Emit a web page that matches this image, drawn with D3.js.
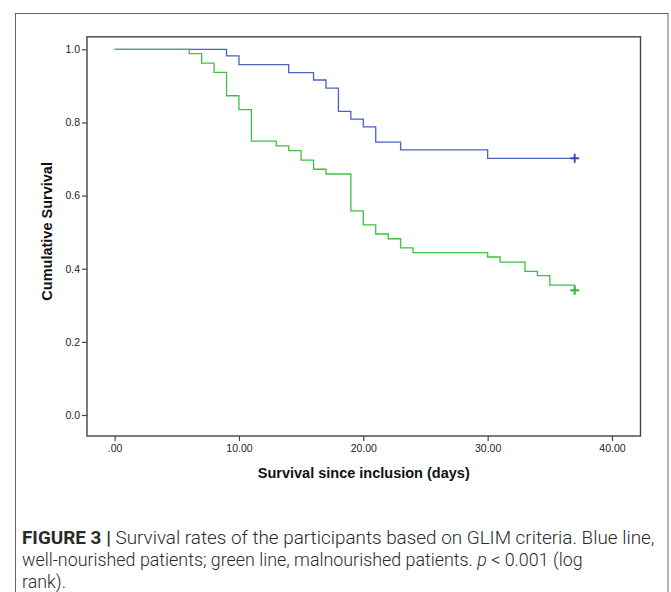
<!DOCTYPE html>
<html>
<head>
<meta charset="utf-8">
<script src="https://cdn.jsdelivr.net/npm/d3@7"></script>
<style>
  body { margin: 0; background: #fff; }
</style>
</head>
<body>
<div id="chart-area"></div>
<script>
// Well-nourished (blue) survival steps
var blueDays = [0, 9, 10, 14, 16, 17, 18, 19, 20, 21, 23, 30, 37];
var blueSurv = [1.0, 0.982, 0.958, 0.936, 0.916, 0.894, 0.830, 0.809, 0.788, 0.746, 0.725, 0.702, 0.702];

// Malnourished (green) survival steps
var greenDays = [0, 6, 7, 8, 9, 10, 11, 13, 14, 15, 16, 17, 19, 20, 21, 22, 23, 24, 30, 31, 33, 34, 35, 37];
var greenSurv = [1.0, 0.988, 0.962, 0.937, 0.873, 0.835, 0.749, 0.736, 0.723, 0.697, 0.672, 0.659, 0.558, 0.520, 0.495, 0.482, 0.457, 0.444, 0.432, 0.418, 0.393, 0.381, 0.355, 0.341];

// Censored points (day, survival)
var blueCensor = [[37, 0.702]];
var greenCensor = [[37, 0.341]];

// Tick labels
var xTicks = [0, 10, 20, 30, 40];
var xTickLabels = [".00", "10.00", "20.00", "30.00", "40.00"];
var yTicks = [0, 0.2, 0.4, 0.6, 0.8, 1.0];

var colors = { blue: "#4a62c2", green: "#40c040", blueDark: "#3a50b0", greenDark: "#2fb82f" };

// Canvas
var canvasWidth = 671;
var canvasHeight = 592;

var svg = d3.select("#chart-area")
  .append("svg")
  .attr("width", canvasWidth)
  .attr("height", canvasHeight);

// Outer frame (open at bottom)
svg.append("rect")
  .attr("x", 15.5)
  .attr("y", 13.5)
  .attr("width", 652.5)
  .attr("height", 620)
  .attr("fill", "none")
  .attr("stroke", "#666")
  .attr("stroke-width", 1);

// Scales
var x = d3.scaleLinear().domain([0, 40]).range([114.6, 612]);
var y = d3.scaleLinear().domain([0, 1]).range([415, 49.3]);

// Plot box
var boxLeft = 87, boxRight = 640.5, boxTop = 36.8, boxBottom = 436;
svg.append("rect")
  .attr("x", boxLeft)
  .attr("y", boxTop)
  .attr("width", boxRight - boxLeft)
  .attr("height", boxBottom - boxTop)
  .attr("fill", "none")
  .attr("stroke", "#444")
  .attr("stroke-width", 1.4);

// Y axis
var yAxis = svg.append("g")
  .attr("transform", "translate(" + boxLeft + ",0)")
  .call(d3.axisLeft(y).tickValues(yTicks).tickSize(5).tickPadding(2)
    .tickFormat(function(d) { return d3.format(".1f")(d); }));
yAxis.select(".domain").remove();
yAxis.selectAll("line").attr("stroke", "#444").attr("stroke-width", 1.2);
yAxis.selectAll("text")
  .attr("font-family", "Liberation Sans, Arial, sans-serif")
  .attr("font-size", 10.5)
  .attr("fill", "#222");

// X axis
var xAxis = svg.append("g")
  .attr("transform", "translate(0," + boxBottom + ")")
  .call(d3.axisBottom(x).tickValues(xTicks).tickSize(5).tickPadding(4)
    .tickFormat(function(d, i) { return xTickLabels[i]; }));
xAxis.select(".domain").remove();
xAxis.selectAll("line").attr("stroke", "#444").attr("stroke-width", 1.2);
xAxis.selectAll("text")
  .attr("font-family", "Liberation Sans, Arial, sans-serif")
  .attr("font-size", 10.5)
  .attr("fill", "#222");

// Axis titles
svg.append("text")
  .attr("transform", "translate(52," + ((boxTop + boxBottom) / 2 - 5) + ") rotate(-90)")
  .attr("text-anchor", "middle")
  .attr("font-family", "Liberation Sans, Arial, sans-serif")
  .attr("font-weight", "bold")
  .attr("font-size", 14.5)
  .attr("fill", "#111")
  .text("Cumulative Survival");

svg.append("text")
  .attr("x", (boxLeft + boxRight) / 2)
  .attr("y", 478)
  .attr("text-anchor", "middle")
  .attr("font-family", "Liberation Sans, Arial, sans-serif")
  .attr("font-weight", "bold")
  .attr("font-size", 14.5)
  .attr("fill", "#111")
  .text("Survival since inclusion (days)");

// Step lines
var line = d3.line()
  .x(function(d) { return x(d[0]); })
  .y(function(d) { return y(d[1]); })
  .curve(d3.curveStepAfter);

svg.append("path")
  .datum(d3.zip(blueDays, blueSurv))
  .attr("d", line)
  .attr("fill", "none")
  .attr("stroke", colors.blue)
  .attr("stroke-width", 1.3);

svg.append("path")
  .datum(d3.zip(greenDays, greenSurv))
  .attr("d", line)
  .attr("fill", "none")
  .attr("stroke", colors.green)
  .attr("stroke-width", 1.3);

// Censor marks
function drawCensor(pts, color) {
  pts.forEach(function(p) {
    var cx = x(p[0]), cy = y(p[1]);
    svg.append("line").attr("x1", cx - 4.5).attr("x2", cx + 4.5).attr("y1", cy).attr("y2", cy)
      .attr("stroke", color).attr("stroke-width", 2);
    svg.append("line").attr("x1", cx).attr("x2", cx).attr("y1", cy - 4.5).attr("y2", cy + 4.5)
      .attr("stroke", color).attr("stroke-width", 2);
  });
}
drawCensor(blueCensor, colors.blueDark);
drawCensor(greenCensor, colors.greenDark);

// Caption
var captionLines = [
  [["FIGURE 3 |", "bold", "normal"], [" Survival rates of the participants based on GLIM criteria. Blue line,", "300", "normal"]],
  [["well-nourished patients; green line, malnourished patients. ", "300", "normal"], ["p", "300", "italic"], [" < 0.001 (log", "300", "normal"]],
  [["rank).", "300", "normal"]]
];
var captionY = [544, 566, 588];
var captionWidth = [633, 561, null];

var lastScale = 1;
captionLines.forEach(function(parts, i) {
  var t = svg.append("text")
    .attr("font-family", "Roboto, 'Liberation Sans', sans-serif")
    .attr("font-size", 18)
    .attr("fill", "#2a2a2a");
  parts.forEach(function(p) {
    t.append("tspan")
      .attr("font-weight", p[1])
      .attr("font-style", p[2])
      .text(p[0]);
  });
  var w = t.node().getComputedTextLength();
  var k = captionWidth[i] ? captionWidth[i] / w : lastScale;
  lastScale = k;
  t.attr("transform", "translate(22," + captionY[i] + ") scale(" + k + ",1)");
});
</script>
</body>
</html>
